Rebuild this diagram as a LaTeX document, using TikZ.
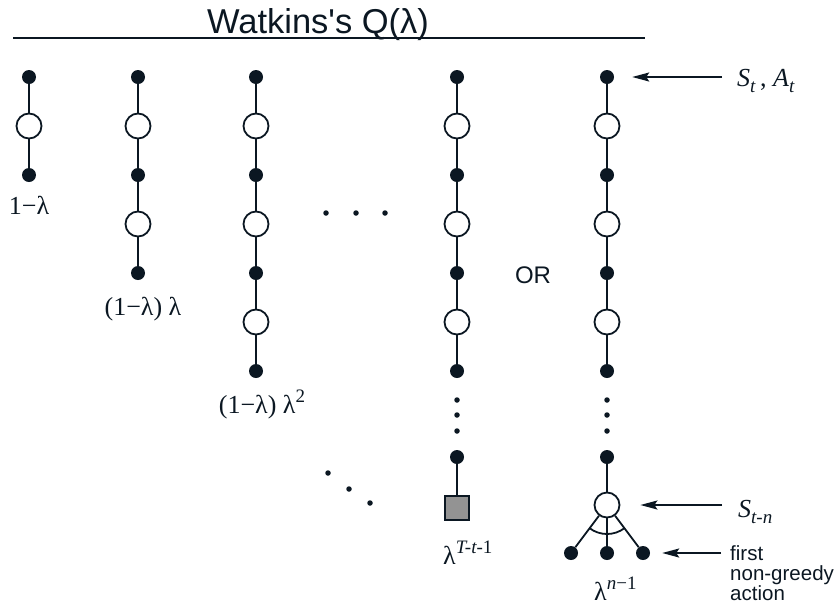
\documentclass[tikz,border=0pt]{standalone}
\usepackage{fontspec}
\setmainfont{Liberation Serif}
\setsansfont{Liberation Sans}
\usetikzlibrary{arrows.meta}
\definecolor{Ink}{HTML}{0B1722}
\definecolor{Box}{HTML}{939393}
\newcommand\lowtxt[1]{\raisebox{-6pt}{\fontsize{19}{19}\selectfont#1}}
\newcommand\hightxt[1]{\raisebox{11pt}{\fontsize{19}{19}\selectfont#1}}

\begin{document}
\begin{tikzpicture}[x=1pt,y=-1pt,
  sdot/.style={circle,fill=Ink,inner sep=0pt,minimum size=14pt},
  snode/.style={circle,draw=Ink,fill=white,line width=1.8pt,inner sep=0pt,minimum size=25pt},
  edot/.style={circle,fill=Ink,inner sep=0pt,minimum size=5.5pt},
  link/.style={draw=Ink,line width=1.8pt},
  pointer/.style={draw=Ink,line width=1.8pt,-{Stealth[length=17pt,width=9pt,inset=3pt]}},
  lab/.style={inner sep=0pt,text=Ink,font=\fontsize{26}{30}\selectfont},
  sans/.style={inner sep=0pt,text=Ink,font=\sffamily\fontsize{20.5}{20}\selectfont}]
\useasboundingbox (0,0) rectangle (840,606);
\node[inner sep=0pt,anchor=base,text=Ink,font=\sffamily\fontsize{34.5}{40}\selectfont] (title) at (318,33) {Watkins\textquotesingle s Q(λ)};
\draw[link] (13,38) -- (645,38);
\foreach \n/\cx/\k in {a/29/1,b/138/2,c/256/3,d/457/3,e/607/3}{
  \foreach \i in {0,...,\k}
    \node[sdot] (\n\i) at (\cx,77+98*\i) {};
  \foreach \i in {1,...,\k}{
    \node[snode] (\n s\i) at (\cx,28+98*\i) {};
    \pgfmathtruncatemacro\j{\i-1}
    \draw[link] (\n\j) -- (\n s\i) -- (\n\i);
  }
}
\foreach \n/\cx in {d/457,e/607}{
  \foreach \y [count=\m] in {400,415,431}
    \node[edot] (\n v\m) at (\cx,\y) {};
  \node[sdot] (\n t) at (\cx,457) {};
}
\node[draw=Ink,fill=Box,line width=1.8pt,inner sep=0pt,minimum size=23.5pt] (dsq) at (457,508) {};
\draw[link] (dt) -- (dsq);
\node[snode] (eroot) at (607,505) {};
\draw[link] (et) -- (eroot);
\foreach \x [count=\m] in {571,607,643}{
  \node[sdot] (leaf\m) at (\x,553) {};
  \draw[link] (eroot) -- (leaf\m);
}
\draw[link] ([shift={(233.1:29pt)}]eroot.center) arc[start angle=233.1,end angle=306.9,radius=29pt];
\foreach \x [count=\m] in {326,356,385}
  \node[edot] (h\m) at (\x,213) {};
\foreach \x/\y [count=\m] in {328/473,349/489,370/503}
  \node[edot] (g\m) at (\x,\y) {};
\node[lab,anchor=base] (la) at (29,214) {1−λ};
\node[lab,anchor=base] (lb) at (143,315) {(1−λ) λ};
\node[lab,anchor=base] (lc) at (262,413) {(1−λ) λ\hightxt{2}};
\node[lab,anchor=base west] (ld) at (443,564) {λ\hightxt{\textit{T-t-}1}};
\node[lab,anchor=base west] (le) at (594,600) {λ\hightxt{\textit{n}−1}};
\node[inner sep=0pt,anchor=base,text=Ink,font=\sffamily\fontsize{24}{24}\selectfont] (or) at (533,283) {OR};
\node[lab,anchor=base west] (st) at (737,86) {\textit{S}\lowtxt{\textit{t}}\,, \textit{A}\lowtxt{\textit{t}}};
\draw[pointer,shorten <=15pt,shorten >=18pt] (e0.east -| st.west) -- (e0.east);
\node[lab,anchor=base west] (stn) at (738,517) {\textit{S}\lowtxt{\textit{t-n}}};
\draw[pointer,shorten <=16pt,shorten >=20pt] (eroot.east -| stn.west) -- (eroot.east);
\node[sans,anchor=north west,align=left] (fa) at (730,545) {first\\non-greedy\\action};
\draw[pointer,shorten <=9pt,shorten >=12pt] (leaf3.east -| fa.west) -- (leaf3.east);
\end{tikzpicture}
\end{document}
